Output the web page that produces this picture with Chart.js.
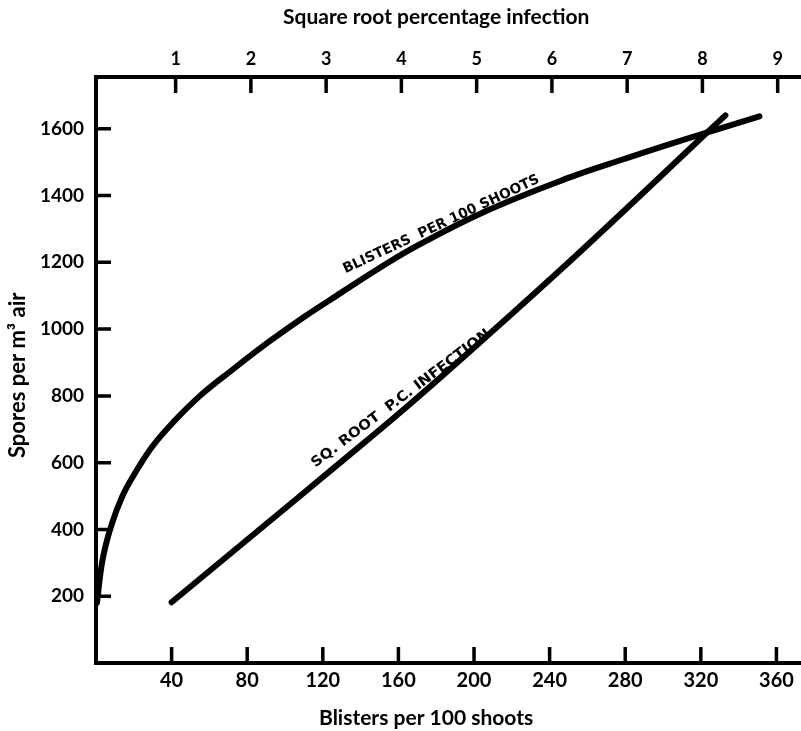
<!DOCTYPE html>
<html>
<head>
<meta charset="utf-8">
<script src="https://cdn.jsdelivr.net/npm/chart.js@4.4.1/dist/chart.umd.min.js"></script>
<style>
body{margin:0;background:#fff;}
#wrap{width:801px;height:731px;}
</style>
</head>
<body>
<div id="wrap"><canvas id="chart" width="801" height="731"></canvas></div>
<script>
// blisters per 100 shoots (bottom axis) against spores per m3
const blistersX = [0.5, 3.5, 8, 14, 21, 30, 41, 55, 71, 91, 111, 130, 150, 170, 207, 251, 277, 304, 327, 351];
const blistersY = [180, 310, 410, 500, 572, 650, 722, 800, 873, 960, 1040, 1110, 1183, 1250, 1355, 1455, 1505, 1555, 1595, 1637];

// square root % infection, drawn on the same scale (1 on top = 40 below)
const sqRootX = [40, 87, 126, 166, 210, 252, 288, 316, 333];
const sqRootY = [182, 402, 585, 775, 995, 1210, 1400, 1550, 1640];

const bottomTicks = [40, 80, 120, 160, 200, 240, 280, 320, 360];
const topTicks = [1, 2, 3, 4, 5, 6, 7, 8, 9];
const yTicks = [200, 400, 600, 800, 1000, 1200, 1400, 1600];

// text written along the curves: start and end of baseline, in data units
const curveLabels = ["BLISTERS  PER 100 SHOOTS", "SQ. ROOT  P.C. INFECTION"];
const labelStartX = [132, 116];
const labelStartY = [1167, 585];
const labelEndX = [235, 209];
const labelEndY = [1440, 981];

const toPoints = (xs, ys) => xs.map((x, i) => ({x: x, y: ys[i]}));

const inwardTicks = {
  id: "inwardTicks",
  afterDatasetsDraw(chart){
    const {ctx, chartArea: a, scales} = chart;
    ctx.save();
    ctx.strokeStyle = "#000";
    ctx.lineWidth = 3.5;
    ctx.beginPath();
    scales.y.ticks.forEach(t=>{
      const p = scales.y.getPixelForValue(t.value);
      ctx.moveTo(a.left, p); ctx.lineTo(a.left + 15, p);
    });
    scales.x.ticks.forEach(t=>{
      const p = scales.x.getPixelForValue(t.value);
      ctx.moveTo(p, a.bottom); ctx.lineTo(p, a.bottom - 16);
    });
    scales.x2.ticks.forEach(t=>{
      const p = scales.x2.getPixelForValue(t.value);
      ctx.moveTo(p, a.top); ctx.lineTo(p, a.top + 16);
    });
    ctx.stroke();

    /* labels along curves */
    ctx.fillStyle = "#000";
    ctx.font = "bold 14px 'DejaVu Sans'";
    ctx.textBaseline = "alphabetic";
    curveLabels.forEach((txt, i)=>{
      const x1 = scales.x.getPixelForValue(labelStartX[i]);
      const y1 = scales.y.getPixelForValue(labelStartY[i]);
      const x2 = scales.x.getPixelForValue(labelEndX[i]);
      const y2 = scales.y.getPixelForValue(labelEndY[i]);
      const len = Math.hypot(x2 - x1, y2 - y1);
      const w = ctx.measureText(txt).width;
      ctx.save();
      ctx.translate(x1, y1);
      ctx.rotate(Math.atan2(y2 - y1, x2 - x1));
      ctx.scale(len / w, 1);
      ctx.fillText(txt, 0, 0);
      ctx.restore();
    });
    ctx.restore();
  },
  afterDraw(chart){
    const ctx = chart.ctx;
    ctx.save();
    ctx.fillStyle = "#000";
    ctx.textBaseline = "alphabetic";
    ctx.textAlign = "left";
    ctx.font = "bold 21px Lato";
    ctx.fillText("Square root percentage infection", 283, 24);
    ctx.font = "bold 21px Lato";
    ctx.fillText("Blisters per 100 shoots", 319, 725);
    ctx.translate(25, 458);
    ctx.rotate(-Math.PI / 2);
    ctx.font = "bold 22px Lato";
    ctx.fillText("Spores per m\u00B3 air", 0, 0);
    ctx.restore();
  }
};

const tickFont = size => ({family: "Lato", weight: "bold", size: size});
const plain = v => String(v);

new Chart(document.getElementById("chart"), {
  type: "line",
  data: {
    datasets: [
      {label: "Blisters per 100 shoots", data: toPoints(blistersX, blistersY)},
      {label: "Sq. root p.c. infection", data: toPoints(sqRootX, sqRootY)}
    ]
  },
  options: {
    responsive: false,
    animation: false,
    layout: {padding: 0},
    elements: {
      line: {borderColor: "#000", borderWidth: 6, borderCapStyle: "round", borderJoinStyle: "round", tension: 0.4, fill: false},
      point: {radius: 0, hoverRadius: 0}
    },
    plugins: {legend: {display: false}, tooltip: {enabled: false}},
    scales: {
      x: {
        type: "linear", position: "bottom", min: 0, max: 373,
        afterBuildTicks: s => { s.ticks = bottomTicks.map(v=>({value: v})); },
        afterFit: s => { s.height = 68; },
        grid: {display: false, drawTicks: false},
        border: {display: true, color: "#000", width: 4},
        ticks: {color: "#000", font: tickFont(20), padding: 6, maxRotation: 0, autoSkip: false, callback: plain}
      },
      x2: {
        type: "linear", position: "top", min: -0.058, max: 9.31,
        afterBuildTicks: s => { s.ticks = topTicks.map(v=>({value: v})); },
        afterFit: s => { s.height = 77; },
        grid: {display: false, drawTicks: false},
        border: {display: true, color: "#000", width: 4},
        ticks: {color: "#000", font: tickFont(18), padding: 7, maxRotation: 0, autoSkip: false, callback: plain}
      },
      y: {
        type: "linear", position: "left", min: 0, max: 1755,
        afterBuildTicks: s => { s.ticks = yTicks.map(v=>({value: v})); },
        afterFit: s => { s.width = 96; },
        grid: {display: false, drawTicks: false},
        border: {display: true, color: "#000", width: 4},
        ticks: {color: "#000", font: tickFont(19), padding: 12, autoSkip: false, callback: plain}
      }
    }
  },
  plugins: [inwardTicks]
});
</script>
</body>
</html>
